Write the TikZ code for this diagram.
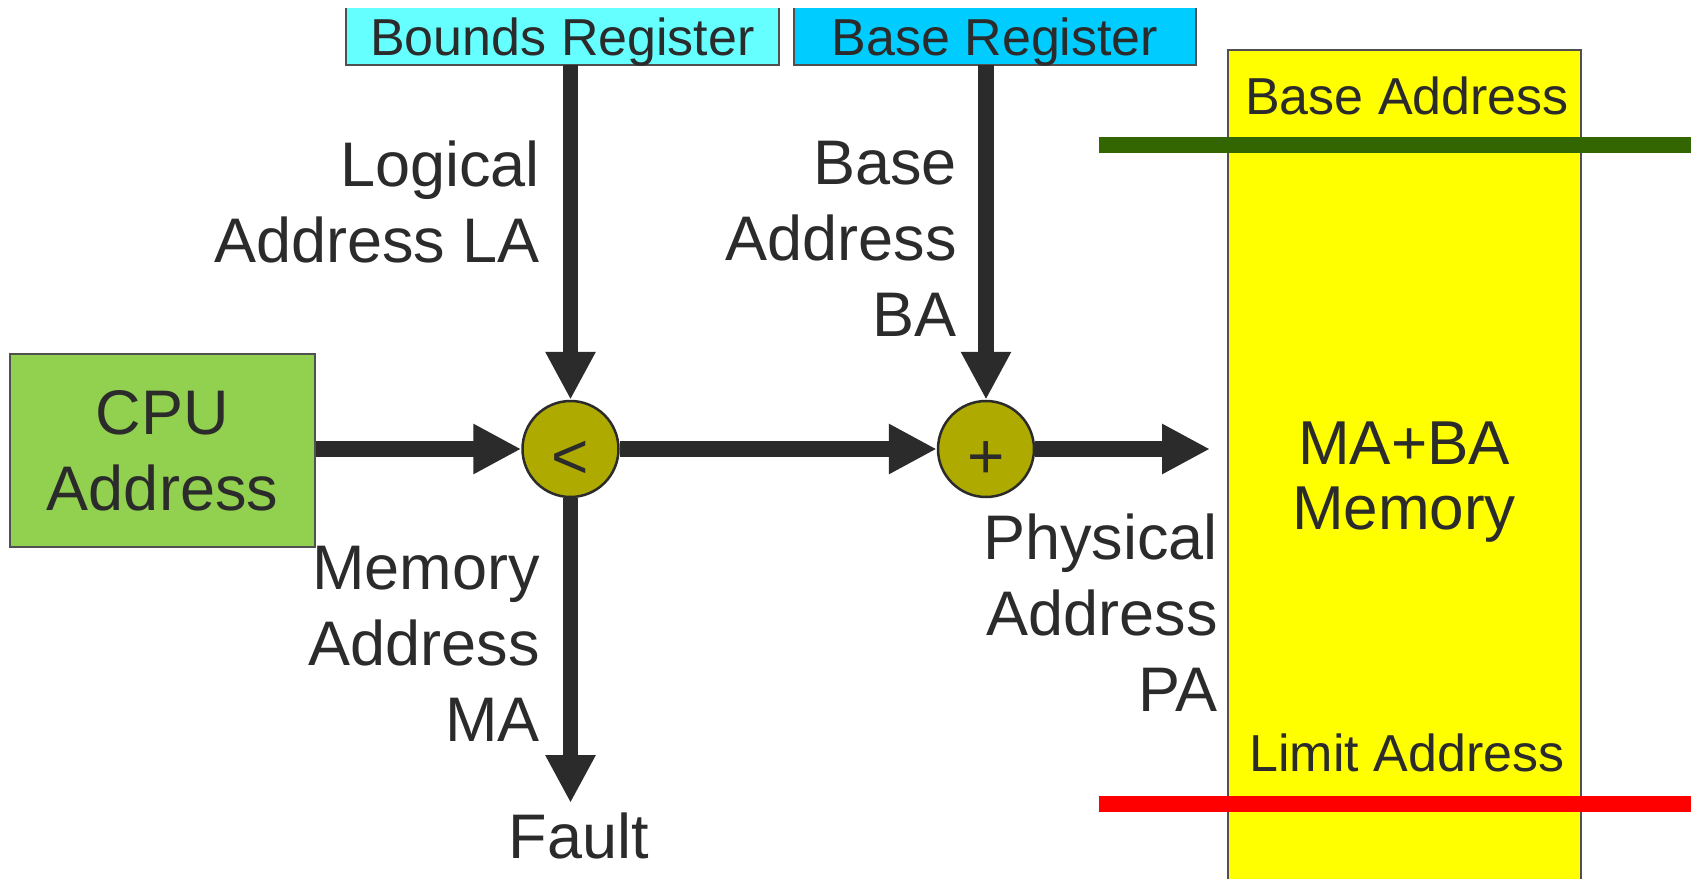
\documentclass[tikz,border=0pt]{standalone}
\usepackage{fontspec}
\setmainfont{Liberation Sans}
\usetikzlibrary{arrows.meta}
\definecolor{ink}{HTML}{2B2B2B}
\definecolor{boundsfill}{HTML}{66FFFF}
\definecolor{basefill}{HTML}{00CCFF}
\definecolor{cpufill}{HTML}{92D050}
\definecolor{opfill}{HTML}{AFAA00}
\definecolor{memfill}{HTML}{FFFF00}
\definecolor{greenbar}{HTML}{336600}
\definecolor{redbar}{HTML}{FF0000}
\definecolor{boxedge}{HTML}{505050}
\begin{document}
\begin{tikzpicture}[x=1pt,y=1pt,
  arr/.style={draw=ink, line width=15.6pt, -{Triangle[length=48pt,width=47pt]}},
  lbl/.style={inner sep=0pt, text=ink, align=right, font=\fontsize{63}{76}\selectfont},
  smalltxt/.style={inner sep=0pt, text=ink, font=\fontsize{52}{60}\selectfont},
  op/.style={circle, fill=opfill, draw=ink, line width=2.5pt, minimum size=96pt, inner sep=0pt, text=ink, font=\fontsize{64}{70}\selectfont, text height=58pt, text depth=0pt},
  regbox/.style={minimum height=57pt, inner sep=0pt, outer sep=0pt},
  edge/.style={draw=boxedge, line width=2pt},
  bar/.style={line width=16pt}
]
\useasboundingbox (0,0) rectangle (1694,-878);

% memory column
\node (mem) [edge, fill=memfill, minimum width=353pt, minimum height=845pt, inner sep=0pt, anchor=north west] at (1227,-49) {};

% register boxes (top edge cut off)
\node (bounds) [regbox, minimum width=433pt, fill=boundsfill] at (562.5,-36.5) {};
\draw[edge] (bounds.north west) |- (bounds.south east) -- (bounds.north east);
\node (boundstxt) [smalltxt, anchor=base] at (562.5,-55) {Bounds Register};
\node (base) [regbox, minimum width=402pt, fill=basefill] at (995,-36.5) {};
\draw[edge] (base.north west) |- (base.south east) -- (base.north east);
\node (basetxt) [smalltxt, anchor=base] at (995,-55) {Base Register};

% CPU
\node (cpu) [edge, fill=cpufill, minimum width=305pt, minimum height=193pt, inner sep=0pt, align=center, text=ink, font=\fontsize{63}{76}\selectfont] at (162.5,-450.5) {CPU\\Address};

% operators
\node (lt) [op] at (570.5,-449) {<};
\node (plus) [op] at (986,-449) {+};

% connectors
\coordinate (faultend) at (570.5,-803);
\coordinate (memin) at (1210,-449);
\draw[arr] (lt.north |- bounds.south) -- (lt.north);
\draw[arr] (plus.north |- base.south) -- (plus.north);
\draw[arr] (cpu.east |- lt.west) -- (lt.west);
\draw[arr] (lt.east) -- (plus.west);
\draw[arr] (plus.east) -- (memin);
\draw[arr] (lt.south) -- (faultend);

% labels
\node (la) [lbl, anchor=north east] at (540,-141) {Logical\\Address LA};
\node (ba) [lbl, anchor=north east] at (957,-141) {Base\\Address\\BA};
\node (ma) [lbl, anchor=north east] at (540,-546) {Memory\\Address\\MA};
\node (pa) [lbl, anchor=north east] at (1218,-514) {Physical\\Address\\PA};
\node (fault) [lbl, anchor=north] at (579,-813) {Fault};

% memory contents
\node (basead) [smalltxt, anchor=north] at (1407,-77) {Base Address};
\node (limitad) [smalltxt, anchor=north] at (1407,-734) {Limit Address};
\node (memtxt) [inner sep=0pt, text=ink, align=center, font=\fontsize{62}{65}\selectfont, anchor=north] at (1404,-422) {MA+BA\\Memory};

\coordinate (g1) at (1099,-145);
\coordinate (g2) at (1691,-145);
\draw[bar, greenbar] (g1) -- (g2);
\coordinate (r1) at (1099,-804);
\coordinate (r2) at (1691,-804);
\draw[bar, redbar] (r1) -- (r2);
\end{tikzpicture}
\end{document}
